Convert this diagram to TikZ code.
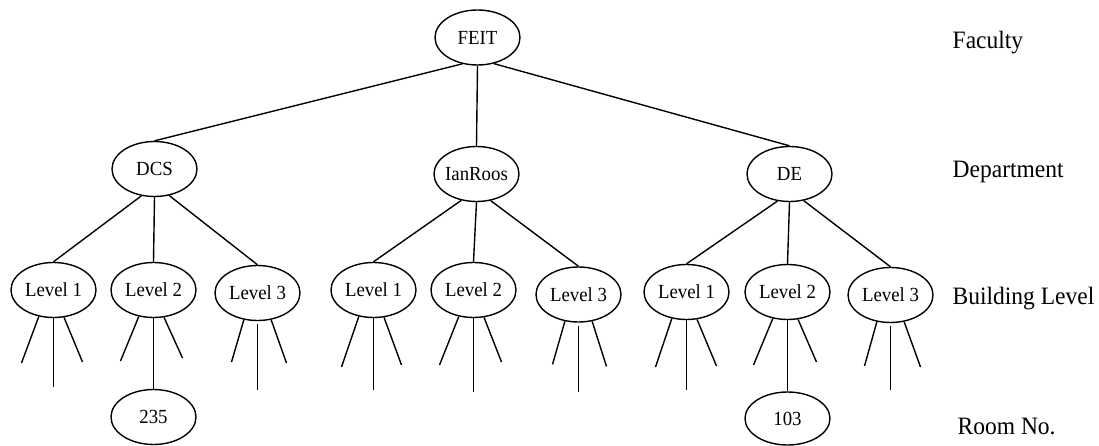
\documentclass[tikz,border=0pt]{standalone}
\usepackage{fontspec}
\setmainfont{Liberation Serif}
\newfontfamily\tnr{Liberation Serif}[FakeStretch=0.94]
\usetikzlibrary{shapes.geometric,calc}
\begin{document}
\begin{tikzpicture}[x=1pt,y=-1pt,line width=1.4pt,
  el/.style={draw, ellipse, inner sep=0pt, minimum width=85pt, minimum height=55pt,
             font=\tnr\fontsize{20}{22}\selectfont},
  lab/.style={anchor=base west, inner sep=0pt, font=\tnr\fontsize{25}{30}\selectfont}]
\useasboundingbox (0,0) rectangle (1099,446);
% nodes
\node[el] (feit) at (477.5,37.5) {\makebox[0pt]{FEIT}};
\node[el] (dcs) at (154.5,169) {\makebox[0pt]{DCS}};
\node[el] (ian) at (476.5,174) {\makebox[0pt]{IanRoos}};
\node[el] (de) at (789.5,174) {\makebox[0pt]{DE}};
\node[el] (d1) at (53.5,290) {\makebox[0pt]{Level 1}};
\node[el] (d2) at (153.5,290) {\makebox[0pt]{Level 2}};
\node[el] (d3) at (257.5,293) {\makebox[0pt]{Level 3}};
\node[el] (i1) at (373.5,290) {\makebox[0pt]{Level 1}};
\node[el] (i2) at (473.5,290) {\makebox[0pt]{Level 2}};
\node[el] (i3) at (578.5,294.5) {\makebox[0pt]{Level 3}};
\node[el] (e1) at (686.5,292) {\makebox[0pt]{Level 1}};
\node[el] (e2) at (787.5,292) {\makebox[0pt]{Level 2}};
\node[el] (e3) at (890.5,295) {\makebox[0pt]{Level 3}};
\node[el] (r235) at (153.5,417) {\makebox[0pt]{235}};
\node[el, minimum height=53pt] (r103) at (787.5,418.5) {\makebox[0pt]{103}};
% labels
\node[lab] (fac) at (952,49) {Faculty};
\node[lab] (dep) at (952,178) {Department};
\node[lab] (bl) at (952,304) {Building Level};
\node[lab] (rn) at (957,434) {Room No.};
% top level connectors
\draw (feit.240) -- (dcs.north);
\draw (feit.south) -- (ian.north);
\draw (feit.302) -- (de.north);
% department connectors
\draw (dcs.244) -- (d1.north);
\draw (dcs.south) -- (d2.north);
\draw (dcs.299) -- (d3.north);
\draw (ian.240) -- (i1.north);
\draw (ian.south) -- (i2.north);
\draw (ian.298) -- (i3.north);
\draw (de.246) -- (e1.north);
\draw (de.south) -- (e2.north);
\draw (de.298) -- (e3.north);
% rooms
\draw (d2.south) -- (r235.north);
\draw (e2.south) -- (r103.north);
% leaves
\foreach \n/\a/\b/\lx/\ly/\rx/\ry in {d1/241/291/-32/73/29/72, d2/241/291/-33/71/29/68,
  d3/243/297/-26/69/29/70, i1/241/291/-32/77/28/75, i2/241/291/-34/75/28/72,
  i3/243/297/-26/70/28/72, e1/241/291/-31/75/30/74, e2/241/291/-34/73/29/70,
  e3/243/297/-26/71/30/72}{
  \coordinate (\n-l) at ($(\n)+(\lx,\ly)$);
  \coordinate (\n-r) at ($(\n)+(\rx,\ry)$);
  \draw (\n.\a) -- (\n-l);
  \draw (\n.\b) -- (\n-r);
}
\foreach \n/\g/\my in {d1/0/97, d3/3/97, i1/0/100, i2/0/102, i3/3/97, e1/0/98, e3/3/95}{
  \coordinate (\n-m) at ($(\n)+(0,\my)$);
  \draw[shorten <=\g pt] (\n.south) -- (\n-m);
}
\end{tikzpicture}
\end{document}
